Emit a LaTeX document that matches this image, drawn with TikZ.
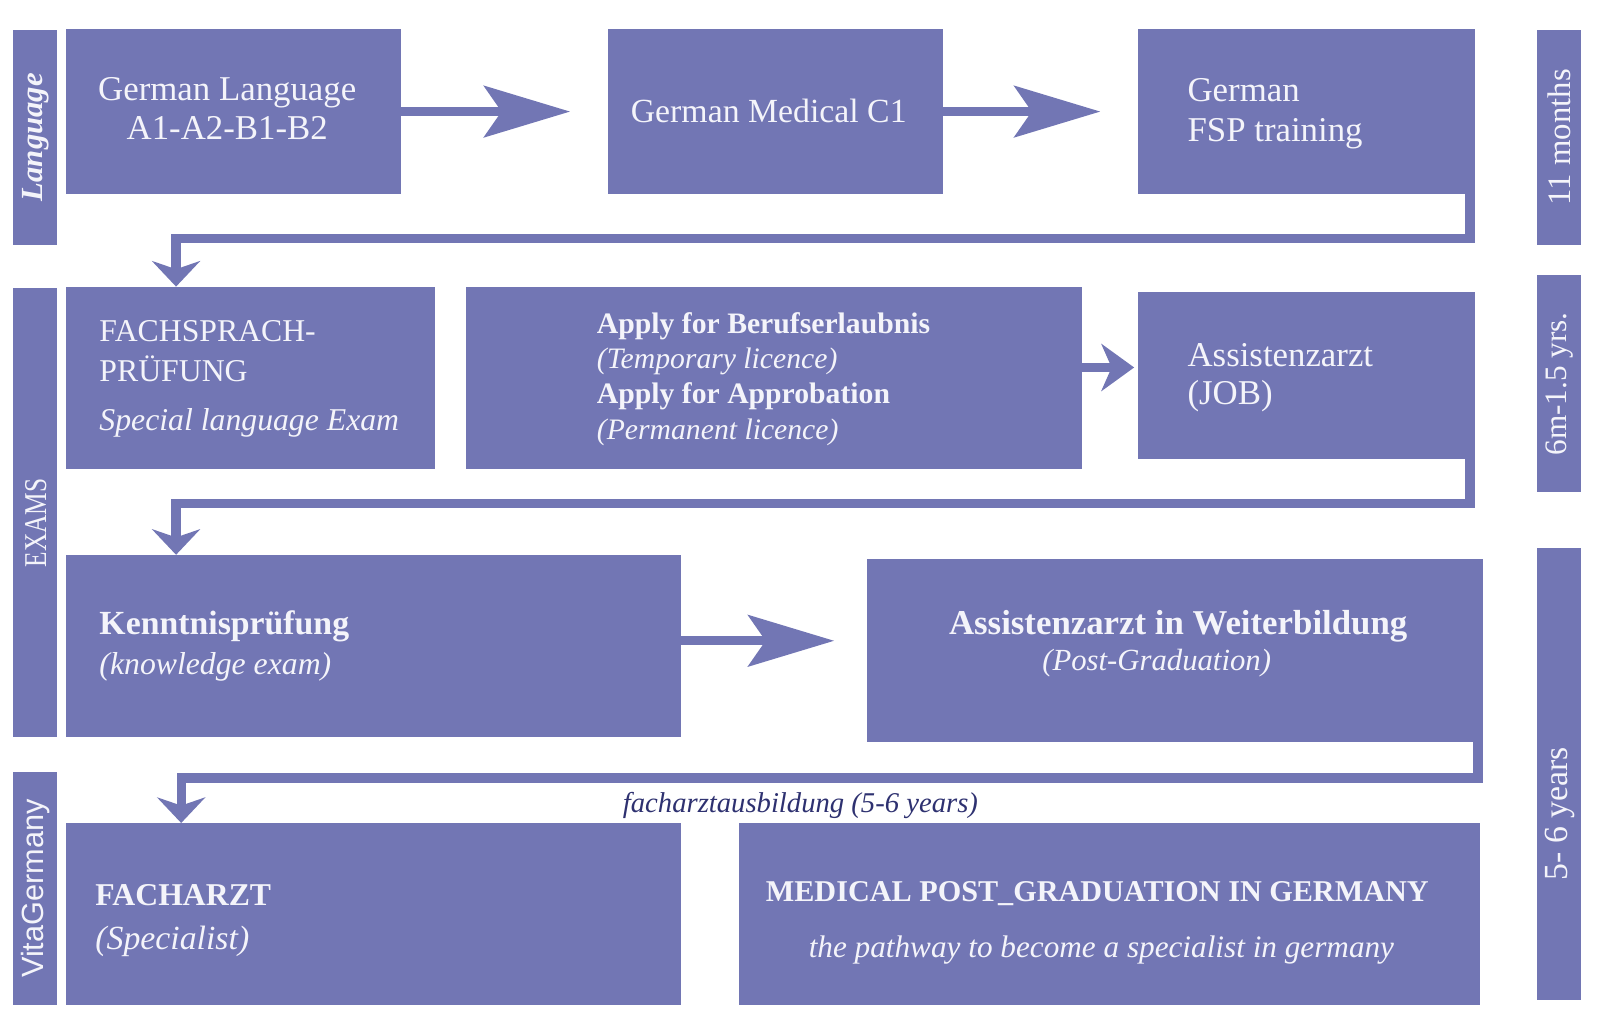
\documentclass[tikz,border=0pt]{standalone}
\usepackage{fontspec}
\setmainfont{Liberation Serif}
\newfontfamily\vgsans{Liberation Sans}
\newfontfamily\vgcond{Liberation Serif}[FakeStretch=0.8]
\usetikzlibrary{arrows.meta}
\definecolor{vgblue}{HTML}{7276B4}
\definecolor{vgtext}{HTML}{F4F4FA}
\definecolor{vgnavy}{HTML}{2E3170}
\newcommand{\fsz}[2]{\fontsize{#1}{#2}\selectfont}

\begin{document}
\begin{tikzpicture}[x=1pt,y=-1pt,
  box/.style={fill=vgblue,anchor=north west,inner sep=0pt,outer sep=0pt},
  bar/.style={fill=vgblue,text=vgtext,inner sep=0pt,outer sep=0pt,rotate=90,minimum height=43pt},
  txt/.style={text=vgtext,inner sep=0pt,align=left,anchor=west},
  bigarrow/.style={draw=vgblue,line width=9pt,-{Stealth[length=84pt,width=50pt,inset=17pt]}},
  smallarrow/.style={draw=vgblue,line width=8pt,-{Stealth[length=32pt,width=46pt,inset=10pt]}},
  elbow/.style={draw=vgblue,line width=9pt,-{Stealth[length=25pt,width=47pt,inset=8pt]}}]
  \useasboundingbox (0,0) rectangle (1568,997);

  % side bars
  \node[bar,minimum width=210pt,font=\fsz{30}{36}\bfseries\itshape] (lang) at (34.5,134) {Language};
  \node[bar,minimum width=439pt] (exams) at (34.5,500.5) {};
  \node[txt,rotate=90,anchor=center,font=\vgcond\fsz{31}{36}] (examstxt) at (35,511) {EXAMS};
  \node[bar,minimum width=228pt,font=\vgsans\fsz{30}{36}] (vita) at (34.5,868) {VitaGermany};
  \node[bar,minimum width=210pt,font=\fsz{32}{36}] (months) at (1523.5,134) {11 months};
  \node[bar,minimum width=212pt,font=\fsz{30.5}{36}] (yrs) at (1523.5,375) {6m-1.5 yrs.};
  \node[bar,minimum width=442pt] (spec) at (1523.5,756) {};
  \node[txt,rotate=90,anchor=center,font=\fsz{33}{36}] (spectxt) at (1524,795) {5- 6 years};

  % row 1
  \node[box,minimum width=328pt,minimum height=162pt] (gl) at (64,28) {};
  \node[txt,align=center,anchor=center,font=\fsz{34}{39}] (gltxt) at (222,106) {German Language\\A1-A2-B1-B2};
  \node[box,minimum width=327pt,minimum height=162pt] (gmc) at (594,28) {};
  \node[txt,anchor=center,font=\fsz{33}{39}] (gmctxt) at (751,108) {German Medical C1};
  \node[box,minimum width=329pt,minimum height=162pt] (fsp) at (1112,28) {};
  \node[txt,font=\fsz{34}{39}] (fsptxt) at (1160,111) {German\\FSP training};

  % row 2
  \node[box,minimum width=361pt,minimum height=178pt] (fach) at (64,280) {};
  \node[txt,font=\fsz{31}{39}] (fachtxt) at (97,370) {FACHSPRACH-\\PRÜFUNG\\[9pt]\textit{Special language Exam}};
  \node[box,minimum width=602pt,minimum height=178pt] (apply) at (455,280) {};
  \node[txt,font=\fsz{29}{34.5}] (applytxt) at (583,370) {\textbf{Apply for Berufserlaubnis}\\\textit{(Temporary licence)}\\\textbf{Apply for Approbation}\\\textit{(Permanent licence)}};
  \node[box,minimum width=329pt,minimum height=163pt] (assist) at (1112,285) {};
  \node[txt,font=\fsz{34}{38}] (assisttxt) at (1160,369) {Assistenzarzt\\(JOB)};

  % row 3
  \node[box,minimum width=601pt,minimum height=178pt] (kenn) at (64,542) {};
  \node[txt,font=\fsz{33}{39}] (kenntxt) at (97,631) {\textbf{Kenntnisprüfung}\\\textit{\fsz{31}{39}(knowledge exam)}};
  \node[box,minimum width=602pt,minimum height=179pt] (aiw) at (847,546) {};
  \node[txt,anchor=center,font=\fsz{34}{39}\bfseries] (aiwtxt) at (1151,612) {Assistenzarzt in Weiterbildung};
  \node[txt,anchor=center,font=\fsz{30}{36}\itshape] (aiwsub) at (1130,648) {(Post-Graduation)};

  % row 4
  \node[box,minimum width=601pt,minimum height=178pt] (fachar) at (64,804) {};
  \node[txt,font=\fsz{31}{43}] (fachartxt) at (93,899) {\textbf{FACHARZT}\\\textit{\fsz{33}{43}(Specialist)}};
  \node[box,minimum width=724pt,minimum height=178pt] (med) at (722,804) {};
  \node[txt,anchor=center,font=\fsz{29.5}{36}\bfseries] (medtxt) at (1072,873) {MEDICAL POST\_GRADUATION IN GERMANY};
  \node[txt,anchor=center,font=\fsz{30.5}{36}\itshape] (medsub) at (1076,928) {the pathway to become a specialist in germany};

  \node[txt,anchor=center,text=vgnavy,font=\fsz{28}{32}\itshape] (ausb) at (782,787) {facharztausbildung (5-6 years)};

  % arrows
  \draw[bigarrow,shorten >=37pt] (gl.east) -- (gmc.west);
  \draw[bigarrow,shorten >=37pt] (gmc.east) -- (fsp.west);
  \draw[smallarrow,shorten >=4pt] ([yshift=10pt]apply.east) -- ([yshift=10pt]apply.east -| assist.west);
  \draw[bigarrow,shorten >=32pt] ([yshift=5pt]kenn.east) -- ([yshift=5pt]kenn.east -| aiw.west);
  \draw[elbow] ([xshift=-5pt]fsp.south east) -- ++(0,43) -| ([xshift=108pt]fach.north west);
  \draw[elbow] ([xshift=-5pt]assist.south east) -- ++(0,44) -| ([xshift=108pt]kenn.north west);
  \draw[elbow] ([xshift=-5pt]aiw.south east) -- ++(0,35) -| ([xshift=113pt]fachar.north west);
\end{tikzpicture}
\end{document}
